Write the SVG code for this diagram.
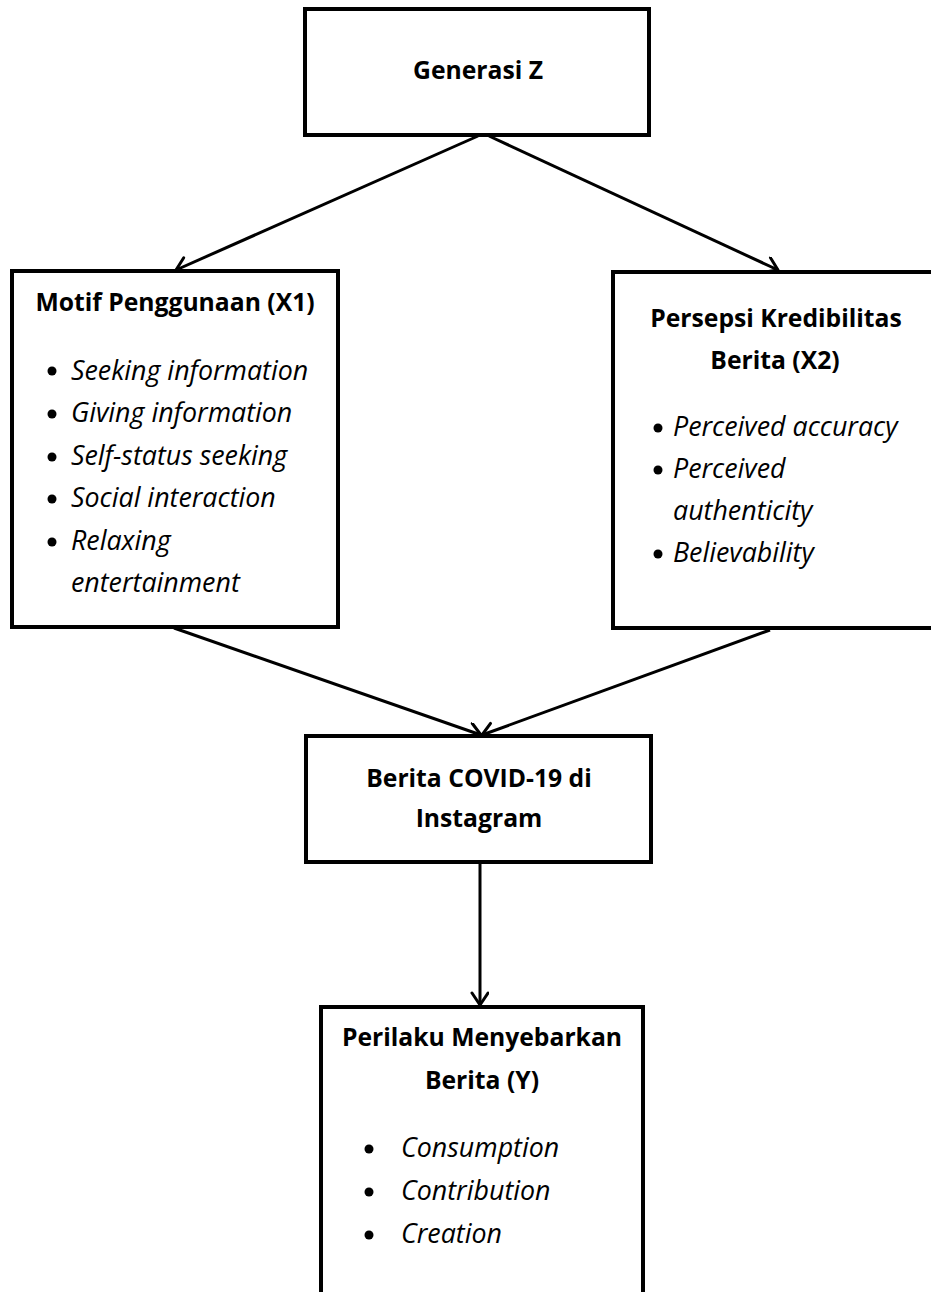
<svg xmlns="http://www.w3.org/2000/svg" width="931" height="1292" viewBox="0 0 931 1292">
<style>
.box{fill:#fff;stroke:#000;stroke-width:4}
.t{font-family:"Open Sans","Liberation Sans",sans-serif;font-weight:bold;font-size:24.7px;fill:#000;text-anchor:middle}
.i{font-family:"Open Sans","Liberation Sans",sans-serif;font-style:italic;font-size:26.8px;fill:#000}
.edge{stroke:#000;stroke-width:3;fill:none;marker-end:url(#ah)}
</style>
<defs>
<marker id="ah" markerUnits="userSpaceOnUse" markerWidth="20" markerHeight="20" refX="15" refY="9" orient="auto" viewBox="0 0 20 20">
<path d="M3,1 L15,9 L3,17" fill="none" stroke="#000" stroke-width="3" stroke-linecap="round" stroke-linejoin="round"/>
</marker>
</defs>
<rect width="931" height="1292" fill="#fff"/>
<g id="connectors">
<line class="edge" x1="478" y1="136" x2="176" y2="270"/>
<line class="edge" x1="489" y1="136" x2="778" y2="270"/>
<line class="edge" x1="174" y1="628" x2="481" y2="735"/>
<line class="edge" x1="770" y1="630" x2="482" y2="735"/>
<line class="edge" x1="480" y1="862" x2="480" y2="1005"/>
</g>
<g id="generasi">
<rect class="box" x="305" y="9" width="344" height="126"/>
<text class="t" x="478" y="79">Generasi Z</text>
</g>
<g id="motif">
<rect class="box" x="12" y="271" width="326" height="356"/>
<text class="t" x="175" y="311">Motif Penggunaan (X1)</text>
<circle cx="52" cy="371" r="4.5"/><text class="i" x="71" y="380">Seeking information</text>
<circle cx="52" cy="414" r="4.5"/><text class="i" x="71" y="422">Giving information</text>
<circle cx="52" cy="457" r="4.5"/><text class="i" x="71" y="465">Self-status seeking</text>
<circle cx="52" cy="499" r="4.5"/><text class="i" x="71" y="507">Social interaction</text>
<circle cx="52" cy="542" r="4.5"/><text class="i" x="71" y="550">Relaxing</text>
<text class="i" x="71" y="592">entertainment</text>
</g>
<g id="persepsi">
<rect class="box" x="613" y="272" width="340" height="356"/>
<text class="t" x="776" y="327">Persepsi Kredibilitas</text>
<text class="t" x="775" y="369">Berita (X2)</text>
<circle cx="658" cy="428" r="4.5"/><text class="i" x="673" y="436">Perceived accuracy</text>
<circle cx="658" cy="470" r="4.5"/><text class="i" x="673" y="478">Perceived</text>
<text class="i" x="673" y="520">authenticity</text>
<circle cx="658" cy="554" r="4.5"/><text class="i" x="673" y="562">Believability</text>
</g>
<g id="berita">
<rect class="box" x="306" y="736" width="345" height="126"/>
<text class="t" x="479" y="787">Berita COVID-19 di</text>
<text class="t" x="479" y="827">Instagram</text>
</g>
<g id="perilaku">
<rect class="box" x="321" y="1007" width="322" height="300"/>
<text class="t" x="482" y="1046">Perilaku Menyebarkan</text>
<text class="t" x="482" y="1089">Berita (Y)</text>
<circle cx="369" cy="1149" r="4.5"/><text class="i" x="401" y="1157">Consumption</text>
<circle cx="369" cy="1192" r="4.5"/><text class="i" x="401" y="1200">Contribution</text>
<circle cx="369" cy="1235" r="4.5"/><text class="i" x="401" y="1243">Creation</text>
</g>
</svg>
